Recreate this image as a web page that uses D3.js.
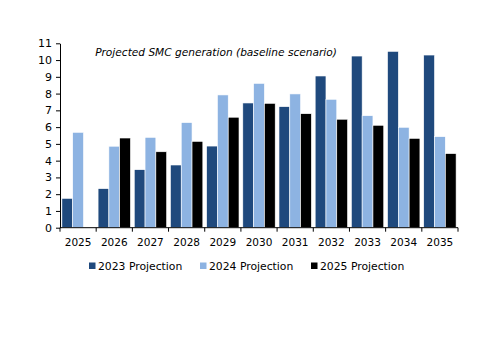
<!DOCTYPE html>
<html><head><meta charset="utf-8">
<script src="https://cdn.jsdelivr.net/npm/d3@7"></script>
<style>body{margin:0;background:#fff}</style>
</head><body>
<svg id="c" width="500" height="353"></svg>
<script>
const years = ["2025","2026","2027","2028","2029","2030","2031","2032","2033","2034","2035"];
const seriesNames = ["2023 Projection","2024 Projection","2025 Projection"];
const proj2023 = [1.75,2.33,3.46,3.74,4.87,7.44,7.22,9.05,10.24,10.52,10.30];
const proj2024 = [5.69,4.86,5.39,6.27,7.92,8.61,7.98,7.66,6.68,5.99,5.43];
const proj2025 = [0,5.35,4.53,5.15,6.59,7.42,6.80,6.47,6.11,5.33,4.42];
const yTicks = [0,1,2,3,4,5,6,7,8,9,10,11];
const colors = ["#1F497D","#8DB3E2","#000000"];
const title = "Projected SMC generation (baseline scenario)";

const svg = d3.select("#c");
const font = "DejaVu Sans";
const x0 = d3.scaleBand().domain(years).range([60,458]).paddingInner(0).paddingOuter(0);
const x1 = d3.scaleBand().domain(seriesNames).range([1.9, x0.bandwidth()-1.9]).padding(0);
const y = d3.scaleLinear().domain([0,11]).range([227.7,43.3]);

const data = [proj2023, proj2024, proj2025];
years.forEach((yr,i)=>{
  const g = svg.append("g").attr("transform",`translate(${x0(yr)},0)`);
  seriesNames.forEach((s,j)=>{
    const v = data[j][i];
    if (v<=0) return;
    g.append("rect").attr("x",x1(s)).attr("y",y(v)).attr("width",x1.bandwidth()).attr("height",y(0)-y(v))
      .attr("fill",colors[j]).attr("stroke","#ffffff").attr("stroke-width",0.6);
  });
});

const ya = svg.append("g").attr("transform","translate(60,0)")
  .call(d3.axisLeft(y).tickValues(yTicks).tickSize(4).tickSizeOuter(0).tickPadding(4));
ya.select(".domain").attr("stroke","#000");
ya.selectAll("text").attr("font-family",font).attr("font-size",11).attr("fill","#000");

const xa = svg.append("g").attr("transform",`translate(0,${y(0)})`);
xa.append("line").attr("x1",60).attr("x2",458).attr("stroke","#000");
const edges = years.map(d=>x0(d)).concat([x0(years[years.length-1])+x0.bandwidth()]);
xa.selectAll("line.t").data(edges).enter().append("line").attr("class","t")
  .attr("x1",d=>d).attr("x2",d=>d).attr("y1",0).attr("y2",4).attr("stroke","#000");
xa.selectAll("text").data(years).enter().append("text")
  .attr("x",d=>x0(d)+x0.bandwidth()/2).attr("y",18).attr("text-anchor","middle")
  .attr("font-family",font).attr("font-size",10.5).text(d=>d);

svg.append("text").attr("x",216).attr("y",56).attr("text-anchor","middle")
  .attr("font-family",font).attr("font-size",10.6).attr("font-style","italic").text(title);

const legX = [89,200,311];
seriesNames.forEach((s,j)=>{
  svg.append("rect").attr("x",legX[j]).attr("y",262.5).attr("width",6.5).attr("height",6.5).attr("fill",colors[j]);
  svg.append("text").attr("x",legX[j]+9).attr("y",270).attr("font-family",font).attr("font-size",10.8).text(s);
});
</script>
</body></html>
